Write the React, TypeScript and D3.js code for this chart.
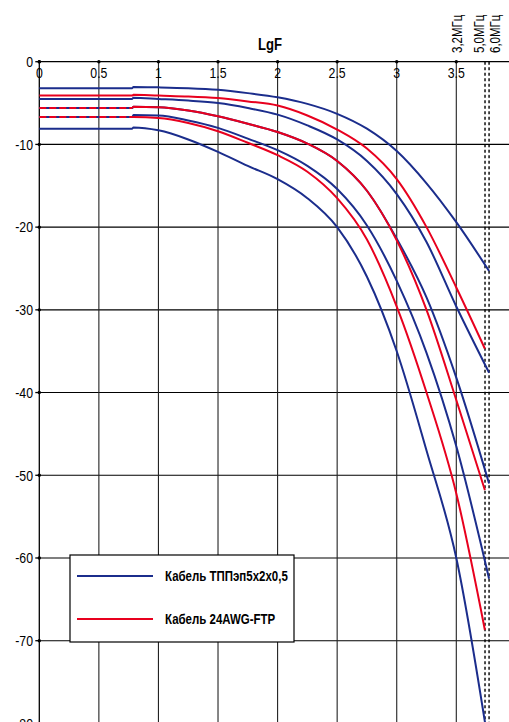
import React from 'react';
import * as d3 from 'd3';

// lg of frequency, kHz
const lgF = [0, 0.78, 0.79, 1, 1.25, 1.5, 1.75, 2, 2.25, 2.5, 2.75, 3, 3.25, 3.5];
const blueEnd = 3.775; // 6,0 MHz
const redEnd = 3.74; // 5,0 MHz

// attenuation, dB (last value is at the end point)
const blue1 = [-3.2, -3.2, -3.05, -3.1, -3.2, -3.4, -3.8, -4.3, -5.1, -6.3, -8.1, -10.8, -14.7, -19.4, -25.3];
const blue2 = [-4.5, -4.5, -4.35, -4.5, -4.7, -5.0, -5.6, -6.4, -7.7, -9.4, -12.0, -16.0, -21.8, -29.6, -37.6];
const blue3 = [-5.6, -5.6, -5.45, -5.5, -5.9, -6.6, -7.5, -8.5, -9.9, -12.0, -15.6, -21.4, -28.5, -38.2, -51.0];
const blue4 = [-6.7, -6.7, -6.45, -6.5, -7.1, -8.0, -9.3, -10.7, -12.6, -15.4, -19.8, -26.5, -35.2, -46.5, -62.5];
const blue5 = [-8.1, -8.1, -7.95, -8.3, -9.4, -10.9, -12.6, -14.2, -16.5, -20.0, -26.0, -35.0, -47.0, -60.0, -83.0];
const red1 = [-4.1, -4.1, -4.0, -4.1, -4.2, -4.4, -4.8, -5.3, -6.5, -8.2, -10.5, -14.2, -20.0, -27.3, -34.7];
const red3 = [-5.6, -5.6, -5.45, -5.5, -5.9, -6.6, -7.5, -8.5, -9.9, -12.0, -15.6, -21.6, -30.0, -40.9, -51.8];
const red4 = [-6.7, -6.7, -6.7, -6.8, -7.4, -8.4, -9.8, -11.3, -13.3, -16.5, -21.5, -29.6, -40.0, -52.2, -68.7];

const xTicks = [0, 0.5, 1, 1.5, 2, 2.5, 3, 3.5];
const xTickLabels = ['0', '0.5', '1', '1.5', '2', '2.5', '3', '3.5'];
const yTicks = [0, -10, -20, -30, -40, -50, -60, -70, -80];

const freqMarks = [3.505, 3.741, 3.775];
const freqLabels = ['3,2МГц', '5,0МГц', '6,0МГц'];

const legendLabels = ['Кабель ТППэп5х2х0,5', 'Кабель 24AWG-FTP'];

const BLUE = '#1b2d8c';
const RED = '#e8001e';
const FONT = "'Liberation Sans', Arial, sans-serif";
const SQUEEZE = 0.82; // condensed look

const W = 509;
const H = 722;

type Pt = [number, number];

const toPoints = (vals: number[], end: number): Pt[] =>
  vals.map((v, i) => [i < lgF.length ? lgF[i] : end, v] as Pt);

// text squeezed horizontally around its anchor point
const NarrowText = ({ x, y, rotate = 0, children, ...rest }: any) => (
  <g transform={`translate(${x},${y}) rotate(${rotate}) scale(${SQUEEZE},1)`}>
    <text x={0} y={0} fill="#000" {...rest}>
      {children}
    </text>
  </g>
);

export default function App() {
  const x = d3.scaleLinear().domain([0, 3.5]).range([39.3, 456.3]);
  const y = d3.scaleLinear().domain([0, -70]).range([61.7, 640.7]);

  const line = d3
    .line<Pt>()
    .x((d) => x(d[0]))
    .y((d) => y(d[1]))
    .curve(d3.curveMonotoneX);

  const blues = [blue1, blue2, blue3, blue4, blue5].map((s) => toPoints(s, blueEnd));
  const reds = [
    { pts: toPoints(red1, redEnd), dashed: false },
    { pts: toPoints(red3, redEnd), dashed: true },
    { pts: toPoints(red4, redEnd), dashed: true },
  ];

  const x0 = x(0);
  const y0 = y(0);

  return (
    <svg
      width={W}
      height={H}
      style={{ position: 'absolute', left: 0, top: 0, background: '#fff', overflow: 'hidden' }}
      fontFamily={FONT}
    >
      {/* horizontal grid */}
      {yTicks.slice(1).map((t) => (
        <line key={'h' + t} x1={x0} x2={W} y1={y(t)} y2={y(t)} stroke="#000" strokeWidth={1.1} />
      ))}
      {/* vertical grid */}
      {xTicks.slice(1).map((t) => (
        <line key={'v' + t} x1={x(t)} x2={x(t)} y1={y0} y2={H} stroke="#222" strokeWidth={1.1} />
      ))}
      {/* frequency markers */}
      {freqMarks.slice(1).map((f) => (
        <line
          key={'f' + f}
          x1={x(f)}
          x2={x(f)}
          y1={y0}
          y2={H}
          stroke="#000"
          strokeWidth={1.4}
          strokeDasharray="3,2.5"
        />
      ))}

      {/* axes */}
      <line x1={x0} x2={W} y1={y0} y2={y0} stroke="#000" strokeWidth={1.3} />
      <line x1={x0} x2={x0} y1={y0} y2={H} stroke="#000" strokeWidth={1.3} />

      {xTicks.map((t, i) => (
        <g key={'xt' + t}>
          <circle cx={x(t)} cy={y0} r={1.7} fill="#000" />
          <NarrowText x={x(t)} y={78} textAnchor="middle" fontSize={15}>
            {xTickLabels[i]}
          </NarrowText>
        </g>
      ))}
      {yTicks.map((t) => (
        <g key={'yt' + t}>
          <line x1={x0 - 4} x2={x0} y1={y(t)} y2={y(t)} stroke="#000" strokeWidth={1.3} />
          <circle cx={x0} cy={y(t)} r={1.7} fill="#000" />
          <NarrowText x={33} y={y(t)} dy="0.35em" textAnchor="end" fontSize={15}>
            {t}
          </NarrowText>
        </g>
      ))}

      <NarrowText x={270} y={50} textAnchor="middle" fontSize={16} fontWeight="bold">
        LgF
      </NarrowText>

      {freqMarks.map((f, i) => {
        const off = i === 1 ? -6 : i === 2 ? 6 : 0;
        return (
          <NarrowText key={'fl' + f} x={x(f) + off} y={53} rotate={-90} dy="0.35em" fontSize={14}>
            {freqLabels[i]}
          </NarrowText>
        );
      })}

      {/* curves */}
      {blues.map((pts, i) => (
        <path key={'b' + i} d={line(pts) || ''} fill="none" stroke={BLUE} strokeWidth={2} />
      ))}
      {reds.map((r, i) =>
        r.dashed ? (
          <g key={'r' + i}>
            <path
              d={line(r.pts.filter((p) => p[0] <= 0.78)) || ''}
              fill="none"
              stroke={RED}
              strokeWidth={2}
              strokeDasharray="7,3"
            />
            <path
              d={line(r.pts.filter((p) => p[0] >= 0.78)) || ''}
              fill="none"
              stroke={RED}
              strokeWidth={2}
            />
          </g>
        ) : (
          <path key={'r' + i} d={line(r.pts) || ''} fill="none" stroke={RED} strokeWidth={2} />
        )
      )}

      {/* legend */}
      <rect x={70} y={555} width={224} height={87} fill="#fff" stroke="#000" strokeWidth={1.2} />
      {[BLUE, RED].map((c, i) => (
        <g key={'lg' + i}>
          <line x1={77} x2={153} y1={576 + i * 43} y2={576 + i * 43} stroke={c} strokeWidth={2} />
          <NarrowText x={165} y={576 + i * 43} dy="0.35em" fontSize={14} fontWeight="bold">
            {legendLabels[i]}
          </NarrowText>
        </g>
      ))}
    </svg>
  );
}
